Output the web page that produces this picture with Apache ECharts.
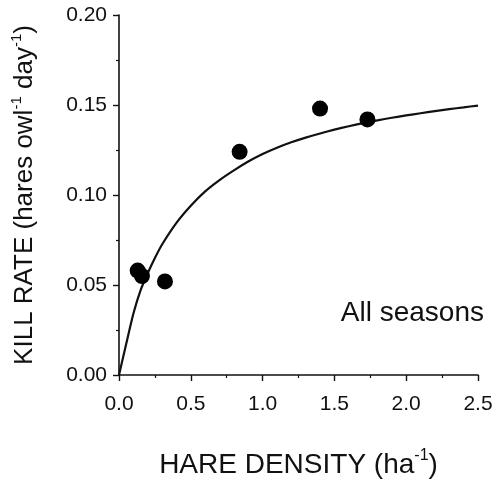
<!DOCTYPE html>
<html>
<head>
<meta charset="utf-8">
<script src="https://cdn.jsdelivr.net/npm/echarts@6/dist/echarts.min.js"></script>
<style>
html,body{margin:0;padding:0;background:#fff;}
#chart{width:496px;height:485px;}
</style>
</head>
<body>
<div id="chart"></div>
<script>
// Observed data points (hare density ha^-1, kill rate hares owl^-1 day^-1)
var pointX = [0.13, 0.16, 0.32, 0.84, 1.40, 1.73];
var pointY = [0.058, 0.055, 0.052, 0.124, 0.148, 0.142];
// Fitted curve
var curveX = [0, 0.05, 0.1, 0.15, 0.2, 0.25, 0.3, 0.4, 0.5, 0.6, 0.7, 0.8, 0.9, 1.0, 1.1, 1.2, 1.3, 1.4, 1.5, 1.6, 1.7, 1.8, 1.9, 2.0, 2.1, 2.2, 2.3, 2.4, 2.5];
var curveY = [0, 0.0172, 0.0340, 0.0470, 0.0565, 0.0650, 0.0725, 0.0845, 0.0940, 0.1020, 0.1083, 0.1137, 0.1186, 0.1228, 0.1263, 0.1293, 0.1319, 0.1342, 0.1363, 0.1382, 0.1399, 0.1415, 0.1429, 0.1442, 0.1454, 0.1466, 0.1477, 0.1487, 0.1497];
var xTicks = ['0.0', '0.5', '1.0', '1.5', '2.0', '2.5'];
var yTicks = ['0.00', '0.05', '0.10', '0.15', '0.20'];
var annotation = 'All seasons';

var FONT = '"Liberation Sans", Arial, sans-serif';
var chart = echarts.init(document.getElementById('chart'), null, {renderer: 'canvas'});
var scatterData = pointX.map(function (x, i) { return [x, pointY[i]]; });
var curveData = curveX.map(function (x, i) { return [x, curveY[i]]; });

var axisCommon = {
  axisLine: {show: true, lineStyle: {color: '#111', width: 1.6}},
  axisTick: {show: true, inside: false, length: 6, lineStyle: {color: '#111', width: 1.4}},
  minorTick: {show: true, splitNumber: 2, length: 3, lineStyle: {color: '#111', width: 1.2}},
  splitLine: {show: false},
  minorSplitLine: {show: false}
};

chart.setOption({
  animation: false,
  backgroundColor: '#fff',
  title: {
    text: annotation,
    right: 7, top: 294,
    textStyle: {fontFamily: FONT, fontSize: 28, fontWeight: 'normal', color: '#111'}
  },
  grid: {left: 119, right: 18, top: 15, bottom: 110, containLabel: false},
  xAxis: Object.assign({
    type: 'value', min: 0, max: 2.5, interval: 0.5,
    axisLabel: {
      margin: 19, fontFamily: FONT, fontSize: 21, color: '#111',
      formatter: function (v) { return xTicks[Math.round(v / 0.5)]; }
    },
    name: '{n|HARE DENSITY (ha}{s|-1}{n|)}',
    nameLocation: 'middle', nameGap: 73,
    nameTextStyle: {
      rich: {
        n: {fontFamily: FONT, fontSize: 28, color: '#111', lineHeight: 34},
        s: {fontFamily: FONT, fontSize: 16, color: '#111', lineHeight: 16, verticalAlign: 'top'}
      }
    }
  }, axisCommon),
  yAxis: Object.assign({
    type: 'value', min: 0, max: 0.2, interval: 0.05,
    axisLabel: {
      margin: 12, fontFamily: FONT, fontSize: 21, color: '#111',
      formatter: function (v) { return yTicks[Math.round(v / 0.05)]; }
    },
    name: '{n|KILL RATE (hares owl}{s|-1}{n| day}{s|-1}{n|)}',
    nameLocation: 'middle', nameGap: 78, nameRotate: 90,
    nameTextStyle: {
      rich: {
        n: {fontFamily: FONT, fontSize: 26, color: '#111', lineHeight: 32},
        s: {fontFamily: FONT, fontSize: 15, color: '#111', lineHeight: 15, verticalAlign: 'top'}
      }
    }
  }, axisCommon),
  series: [
    {
      type: 'line', data: curveData, smooth: 0.25, showSymbol: false,
      lineStyle: {color: '#111', width: 2.2}, z: 2
    },
    {
      type: 'scatter', data: scatterData, symbol: 'circle', symbolSize: 16,
      itemStyle: {color: '#000', opacity: 1}, z: 3
    }
  ]
});
</script>
</body>
</html>
